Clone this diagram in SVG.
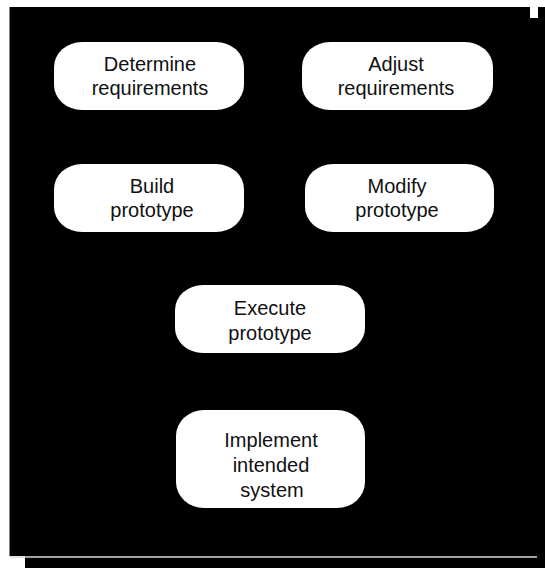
<svg xmlns="http://www.w3.org/2000/svg" width="545" height="568" viewBox="0 0 545 568">
  <style>
    .node rect { fill: #ffffff; stroke: none; }
    .node text { font-family: "Liberation Sans", Arial, Helvetica, sans-serif; font-size: 20px; fill: #111111; text-anchor: middle; }
  </style>
  <rect x="0" y="0" width="545" height="568" fill="#ffffff"/>
  <!-- frame with offset shadow -->
  <rect x="25" y="7" width="520" height="561" fill="#000000"/>
  <rect x="9.5" y="7" width="528" height="549" fill="#000000"/>
  <rect x="530" y="0" width="8" height="18" fill="#ffffff"/>
  <line x1="10" y1="557" x2="537" y2="557" stroke="#d8d8d8" stroke-width="1.6"/>

  <g id="connectors"></g>

  <g id="determine-requirements" class="node">
    <rect x="54" y="42" width="190" height="68" rx="28" ry="25"/>
    <text x="150" y="71">Determine</text>
    <text x="150" y="95">requirements</text>
  </g>
  <g id="adjust-requirements" class="node">
    <rect x="302" y="42" width="191" height="68" rx="28" ry="25"/>
    <text x="396" y="71">Adjust</text>
    <text x="396" y="95">requirements</text>
  </g>
  <g id="build-prototype" class="node">
    <rect x="54" y="164" width="190" height="68" rx="28" ry="25"/>
    <text x="152" y="193">Build</text>
    <text x="152" y="217">prototype</text>
  </g>
  <g id="modify-prototype" class="node">
    <rect x="305" y="164" width="189" height="68" rx="28" ry="25"/>
    <text x="397" y="193">Modify</text>
    <text x="397" y="217">prototype</text>
  </g>
  <g id="execute-prototype" class="node">
    <rect x="175" y="285" width="190" height="68" rx="28" ry="25"/>
    <text x="270" y="315">Execute</text>
    <text x="270" y="340">prototype</text>
  </g>
  <g id="implement-intended-system" class="node">
    <rect x="176" y="410" width="189" height="98" rx="28" ry="26"/>
    <text x="271" y="447">Implement</text>
    <text x="271" y="472">intended</text>
    <text x="272" y="497">system</text>
  </g>
</svg>
